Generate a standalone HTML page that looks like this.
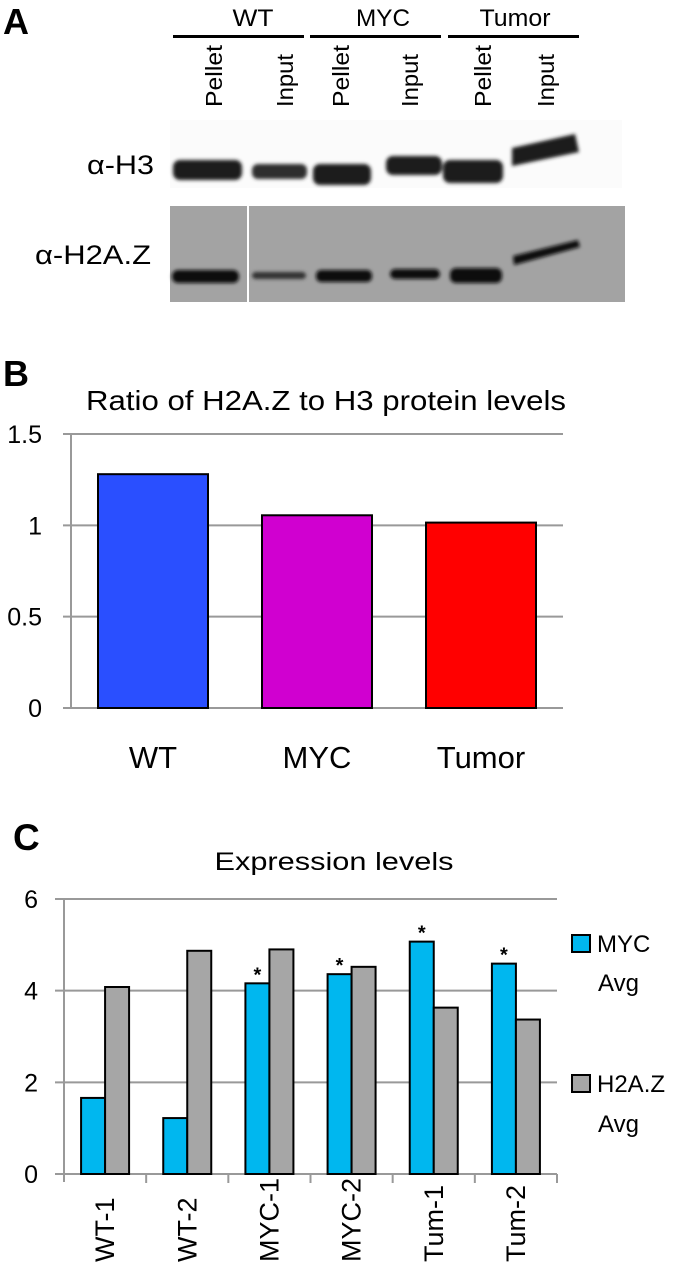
<!DOCTYPE html>
<html><head><meta charset="utf-8"><style>
body{margin:0;background:#fff;width:674px;height:1280px;overflow:hidden}
svg{display:block;font-family:"Liberation Sans",Arial,sans-serif}
</style></head><body>
<svg id="fig" width="674" height="1280" viewBox="0 0 674 1280">
<defs><filter id="blur" x="-20%" y="-50%" width="140%" height="200%"><feGaussianBlur stdDeviation="1.8"/></filter></defs>
<!-- Panel A -->
<g>
<text x="3" y="34" font-size="36" font-weight="bold">A</text>
<g><text x="253" y="26" font-size="24" text-anchor="middle" textLength="41" lengthAdjust="spacingAndGlyphs">WT</text><rect x="173" y="35" width="131" height="3" fill="#000"/></g>
<g><text x="383" y="26" font-size="24" text-anchor="middle" textLength="54" lengthAdjust="spacingAndGlyphs">MYC</text><rect x="310" y="35" width="131" height="3" fill="#000"/></g>
<g><text x="515" y="26" font-size="24" text-anchor="middle" textLength="71" lengthAdjust="spacingAndGlyphs">Tumor</text><rect x="448" y="35" width="131" height="3" fill="#000"/></g>
<g font-size="23">
<text transform="translate(222,107) rotate(-90)" textLength="62" lengthAdjust="spacingAndGlyphs">Pellet</text>
<text transform="translate(293,107) rotate(-90)" textLength="53" lengthAdjust="spacingAndGlyphs">Input</text>
<text transform="translate(349,107) rotate(-90)" textLength="62" lengthAdjust="spacingAndGlyphs">Pellet</text>
<text transform="translate(418,107) rotate(-90)" textLength="53" lengthAdjust="spacingAndGlyphs">Input</text>
<text transform="translate(491,107) rotate(-90)" textLength="62" lengthAdjust="spacingAndGlyphs">Pellet</text>
<text transform="translate(554,107) rotate(-90)" textLength="53" lengthAdjust="spacingAndGlyphs">Input</text>
</g>
<text x="87" y="174" font-size="27" textLength="67" lengthAdjust="spacingAndGlyphs">α-H3</text>
<text x="35" y="264" font-size="27" textLength="116" lengthAdjust="spacingAndGlyphs">α-H2A.Z</text>
<g>
<rect x="170" y="120" width="452" height="68" fill="#fbfbfb"/>
<g filter="url(#blur)" fill="#1a1a1a">
<rect x="173" y="160" width="69" height="20" rx="7"/>
<rect x="252" y="164" width="55" height="15" rx="6" fill="#2e2e2e"/>
<rect x="313" y="164" width="58" height="21" rx="7"/>
<rect x="386" y="156" width="56" height="19" rx="7"/>
<rect x="443" y="160" width="60" height="23" rx="7"/>
<path d="M512 148 L575 134 L579 152 L512 166 Z"/>
</g></g>
<g>
<rect x="170" y="206" width="455" height="96" fill="#a3a3a3"/>
<rect x="247" y="206" width="2" height="96" fill="#fff"/>
<g filter="url(#blur)" fill="#111">
<rect x="172" y="270" width="67" height="13" rx="6"/>
<rect x="252" y="272" width="54" height="7" rx="4" fill="#333"/>
<rect x="316" y="270" width="56" height="12" rx="5"/>
<rect x="390" y="269" width="50" height="10" rx="5"/>
<rect x="450" y="268" width="52" height="15" rx="6"/>
<path d="M513 256 L578 240 L580 247 L514 265 Z"/>
</g></g>
</g>
<!-- Panel B -->
<g>
<text x="3" y="386" font-size="36" font-weight="bold">B</text>
<text x="326" y="410" font-size="28" text-anchor="middle" textLength="480" lengthAdjust="spacingAndGlyphs">Ratio of H2A.Z to H3 protein levels</text>
<g id="chartB"></g>
</g>
<!-- Panel C -->
<g>
<text x="13" y="850" font-size="37" font-weight="bold">C</text>
<text x="334" y="870" font-size="25" text-anchor="middle" textLength="239" lengthAdjust="spacingAndGlyphs">Expression levels</text>
<g id="chartC"></g>
<g>
<g><rect x="572" y="935" width="18" height="17" fill="#00b7ef" stroke="#000" stroke-width="2"/><text x="597" y="952" font-size="24">MYC</text><text x="598" y="991" font-size="24">Avg</text></g>
<g><rect x="572" y="1075" width="18" height="17" fill="#a6a6a6" stroke="#000" stroke-width="2"/><text x="597" y="1092" font-size="24">H2A.Z</text><text x="598" y="1132" font-size="24">Avg</text></g>
</g>
</g>
</svg>
<script>
const NS='http://www.w3.org/2000/svg';
const bCategories=['WT','MYC','Tumor'];
const bValues=[1.28,1.055,1.015];
const bColors=['#2a4fff','#d000d0','#ff0000'];
const bTicks=[0,0.5,1,1.5];
const cCategories=['WT-1','WT-2','MYC-1','MYC-2','Tum-1','Tum-2'];
const cMyc=[1.66,1.22,4.16,4.36,5.07,4.59];
const cH2az=[4.08,4.87,4.9,4.52,3.63,3.37];
const cStars=[false,false,true,true,true,true];
const cTicks=[0,2,4,6];
function mk(p,tag,attrs){const e=document.createElementNS(NS,tag);for(const k in attrs)e.setAttribute(k,attrs[k]);p.appendChild(e);return e;}
// chart B
(function(){
const g=document.getElementById('chartB');
const x0=71,x1=563,yb=708,yt=434,maxV=1.5;
const y=v=>yb-(v/maxV)*(yb-yt);
const gw=(x1-x0)/bCategories.length;
bTicks.forEach(t=>{
 const l=mk(g,'line',{x1:63,x2:x1,y1:y(t),y2:y(t),stroke:'#999','stroke-width':2});
 
 
 const tx=mk(g,'text',{x:42,y:y(t)+9,'font-size':25,'text-anchor':'end'});tx.textContent=String(t);
 
 
});
const ax=mk(g,'line',{x1:x0,x2:x0,y1:yt,y2:yb,stroke:'#999','stroke-width':2});


bCategories.forEach((c,i)=>{
 const cx=x0+gw*(i+0.5),bw=110;
 const r=mk(g,'rect',{x:cx-bw/2,y:y(bValues[i]),width:bw,height:yb-y(bValues[i]),fill:bColors[i],stroke:'#000','stroke-width':2});
 
 
 const t=mk(g,'text',{x:cx,y:768,'font-size':31,'text-anchor':'middle'});t.textContent=c;
 
 
});
})();
// chart C
(function(){
const g=document.getElementById('chartC');
const x0=64,x1=557,yb=1174,yt=899,maxV=6;
const y=v=>yb-(v/maxV)*(yb-yt);
const gw=(x1-x0)/cCategories.length;
cTicks.forEach(t=>{
 const l=mk(g,'line',{x1:55,x2:x1,y1:y(t),y2:y(t),stroke:'#999','stroke-width':2});
 
 
 const tx=mk(g,'text',{x:38,y:y(t)+9,'font-size':25,'text-anchor':'end'});tx.textContent=String(t);
 
 
});
const ax=mk(g,'line',{x1:x0,x2:x0,y1:yt,y2:yb+8,stroke:'#999','stroke-width':2});


for(let i=1;i<=cCategories.length;i++){
 const tk=mk(g,'line',{x1:x0+gw*i,x2:x0+gw*i,y1:yb,y2:yb+9,stroke:'#999','stroke-width':2});
 
 
}
cCategories.forEach((c,i)=>{
 const gx=x0+gw*i,bw=24,bx=gx+gw/2-bw;
 const r1=mk(g,'rect',{x:bx,y:y(cMyc[i]),width:bw,height:yb-y(cMyc[i]),fill:'#00b7ef',stroke:'#000','stroke-width':2});
 
 
 const r2=mk(g,'rect',{x:bx+bw,y:y(cH2az[i]),width:bw,height:yb-y(cH2az[i]),fill:'#a6a6a6',stroke:'#000','stroke-width':2});
 
 
 if(cStars[i]){const s=mk(g,'text',{x:bx+bw/2,y:y(cMyc[i])-2,'font-size':20,'font-weight':'bold','text-anchor':'middle'});s.textContent='*';
  
  }
 const t=mk(g,'text',{transform:'translate('+(gx+gw/2+9)+',1262) rotate(-90)','font-size':27});t.textContent=c;
 
 
});
})();
</script>
</body></html>
